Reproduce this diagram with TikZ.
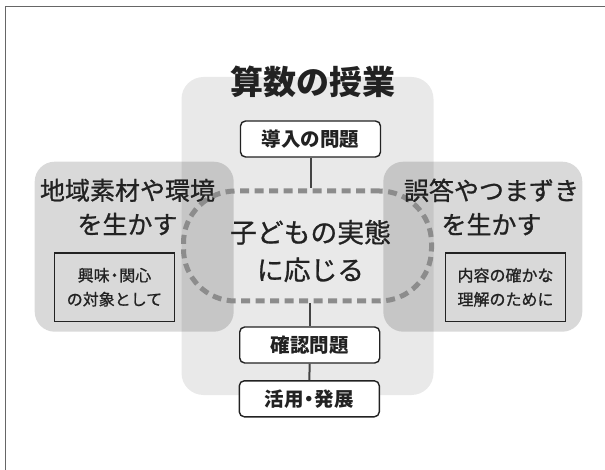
\documentclass[tikz,border=0pt]{standalone}
\usepackage{fontspec}
\setmainfont{Noto Sans CJK JP}
\newfontfamily\medfont{Noto Sans CJK JP}[FakeBold=0.9]
\definecolor{ink}{HTML}{222222}
\definecolor{linec}{HTML}{444444}
\definecolor{dashc}{RGB}{140,140,140}
\begin{document}
\begin{tikzpicture}[x=1pt,y=-1pt,
  area/.style={draw=none,fill=black,fill opacity=#1,text opacity=1,inner sep=0pt},
  colbox/.style={draw=ink,line width=1.4pt,fill=white,rounded corners=5pt,
     minimum width=140pt,minimum height=36pt,inner sep=0pt,text=ink,
     font=\bfseries\fontsize{19.5}{22}\selectfont},
  subbox/.style={draw=ink,line width=1.5pt,minimum width=120pt,minimum height=68.7pt,inner sep=0pt},
  conn/.style={draw=linec,line width=2pt},
  lbl/.style={text=ink,inner sep=0pt,align=center}
]
\useasboundingbox (0,0) rectangle (605,470);
\fill[white] (0,0) rectangle (605,470);
\draw[draw=black!60,line width=1pt] (5.5,470) -- (5.5,6.7) -- (605,6.7);

% shaded regions
\node[area=0.085,rounded corners=22pt,minimum width=252pt,minimum height=318pt] (col) at (307.5,236) {};
\node[area=0.15,rounded corners=20pt,minimum width=199pt,minimum height=170pt] (lside) at (134.2,246.7) {};
\node[area=0.15,rounded corners=20pt,minimum width=199pt,minimum height=170pt] (rside) at (482.8,246.7) {};

% dashed core
\node[draw=dashc,line width=5pt,dash pattern=on 9pt off 5.5pt,rounded corners=52pt,
      minimum width=248pt,minimum height=110pt,inner sep=0pt] (core) at (307.5,246) {};

% title
\node[lbl,font=\bfseries\fontsize{33}{36}\selectfont] (title) at (312.5,82) {算数の授業};

% center text
\node[lbl,font=\medfont\fontsize{26.8}{37.5}\selectfont] (coretext) at (310.5,251) {子どもの実態\\に応じる};

% column boxes
\node[colbox] (intro) at (310.5,139) {導入の問題};
\node[colbox] (check) at (309.7,345) {確認問題};
\node[colbox] (apply) at (309.3,398.8) {活用{\kern-0.22em}・{\kern-0.22em}発展};

\draw[conn] (intro.south) -- (intro.south |- core.north);
\draw[conn] (check.north |- core.south) -- (check.north);
\draw[conn] (check.south) -- (apply.north);

% side titles
\node[lbl,font=\medfont\fontsize{25}{34}\selectfont] (ltitle) at (127.5,207) {地域素材や環境\\を生かす};
\node[lbl,font=\medfont\fontsize{25}{34}\selectfont] (rtitle) at (491.5,207) {誤答やつまずき\\を生かす};

% inner boxes
\node[subbox] (lsub) at (114.5,287.3) {};
\node[subbox] (rsub) at (505.5,287.3) {};
\node[lbl,font=\medfont\fontsize{16}{24}\selectfont] (ltext) at (lsub) {興味{\kern-0.2em}・{\kern-0.2em}関心\\の対象として};
\node[lbl,font=\medfont\fontsize{16}{24}\selectfont] (rtext) at (rsub) {内容の確かな\\理解のために};
\end{tikzpicture}
\end{document}
